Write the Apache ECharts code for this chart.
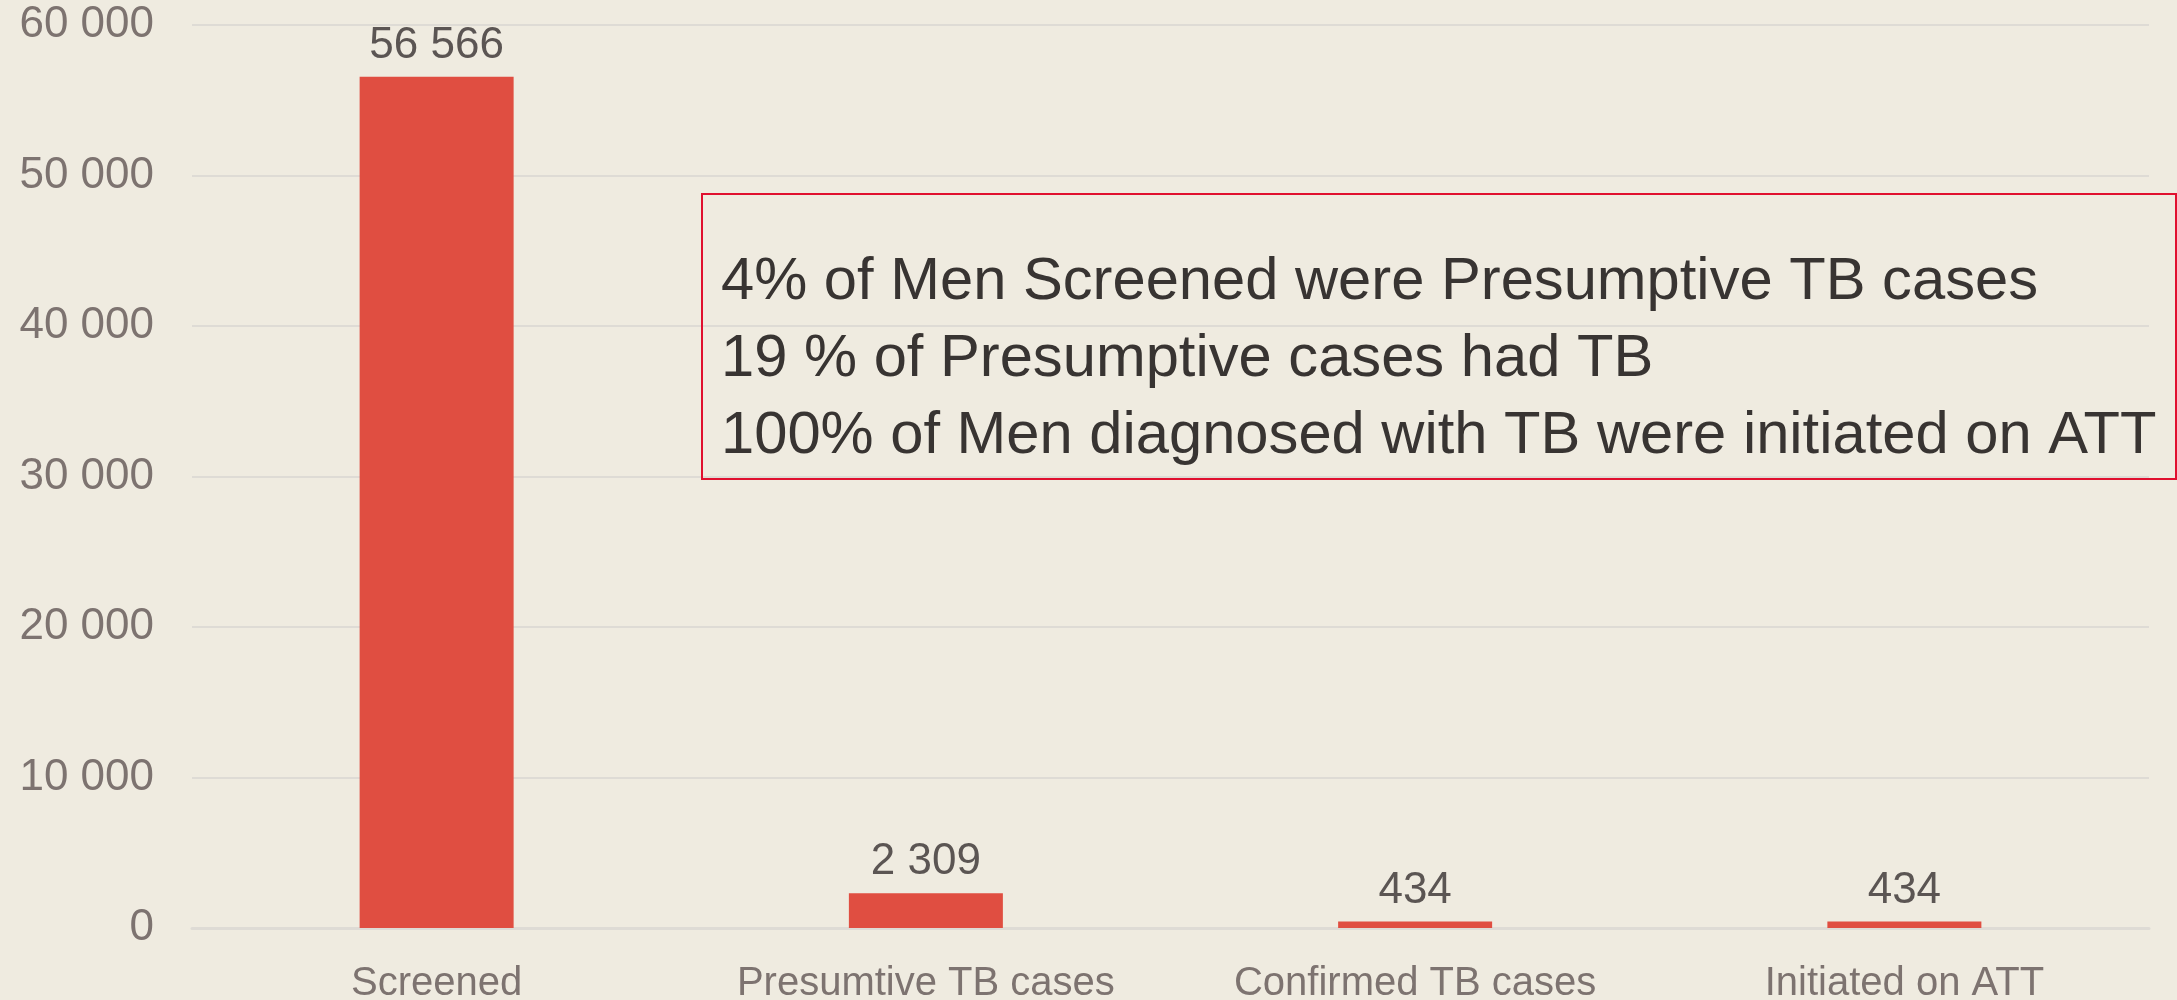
<!DOCTYPE html>
<html>
<head>
    <meta charset="UTF-8">
    <title>TB screening among men</title>
    <style type="text/css">
        *{
            margin: 0;padding: 0;
        }
        html, body{
            background: #efebe0;
        }
        #main{
            width: 2177px;
            height: 1000px;
        }
    </style>
    <script src="https://cdn.jsdelivr.net/npm/echarts@6/dist/echarts.min.js" type="text/javascript" charset="utf-8"></script>
</head>
<body>
<div id="main"></div>
<script type="text/javascript">
    // data
    var categories = ['Screened', 'Presumtive TB cases', 'Confirmed TB cases', 'Initiated on ATT'];
    var menValues = [56566, 2309, 434, 434];
    var yTicks = [0, 10000, 20000, 30000, 40000, 50000, 60000];
    var noteLines = [
        '4% of Men Screened were Presumptive TB cases',
        '19 % of Presumptive cases had TB',
        '100% of Men diagnosed with TB were initiated on ATT'
    ];

    // 56566 -> "56 566"
    function spaced(v){
        return String(v).replace(/\B(?=(\d{3})+(?!\d))/g, ' ');
    }

    var fontName = '"Liberation Sans", "DejaVu Sans", sans-serif';

    var myChart = echarts.init(document.getElementById('main'));

    option = {
        backgroundColor: '#efebe0',
        animation: false,
        grid: {
            left: 192,
            right: 28,
            top: 25,
            bottom: 72,
            containLabel: false,
            outerBoundsMode: 'none'
        },
        xAxis: [
            {
                type: 'category',
                data: categories,
                axisTick: {show: false},
                axisLine: {show: true, lineStyle: {color: '#dedbd5', width: 3}},
                axisLabel: {
                    interval: 0,
                    hideOverlap: false,
                    color: '#7d7370',
                    fontFamily: fontName,
                    fontSize: 40,
                    margin: 36
                }
            }
        ],
        yAxis: [
            {
                type: 'value',
                min: yTicks[0],
                max: yTicks[yTicks.length - 1],
                interval: yTicks[1] - yTicks[0],
                axisLine: {show: false},
                axisTick: {show: false},
                splitLine: {lineStyle: {color: '#dedbd5', width: 2}},
                axisLabel: {
                    color: '#7d7370',
                    fontFamily: fontName,
                    fontSize: 44,
                    margin: 38,
                    formatter: function (v) { return spaced(v); }
                }
            }
        ],
        series: [
            {
                name: 'Men',
                type: 'bar',
                barWidth: 154,
                data: menValues,
                itemStyle: {color: '#e04e41'},
                label: {
                    show: true,
                    position: 'top',
                    distance: 9,
                    color: '#5b5553',
                    fontFamily: fontName,
                    fontSize: 44,
                    formatter: function (p) { return spaced(p.value); }
                }
            }
        ],
        graphic: [
            {
                type: 'rect',
                left: 701,
                top: 193,
                shape: {width: 1474, height: 285},
                style: {fill: 'rgba(0,0,0,0)', stroke: '#e0102f', lineWidth: 2},
                z: 10
            },
            {
                type: 'text',
                left: 721,
                top: 244,
                style: {
                    text: noteLines.join('\n'),
                    fill: '#383432',
                    font: '59.7px ' + fontName,
                    lineHeight: 77
                },
                z: 11
            }
        ]
    };
    myChart.setOption(option);
</script>
</body>
</html>
